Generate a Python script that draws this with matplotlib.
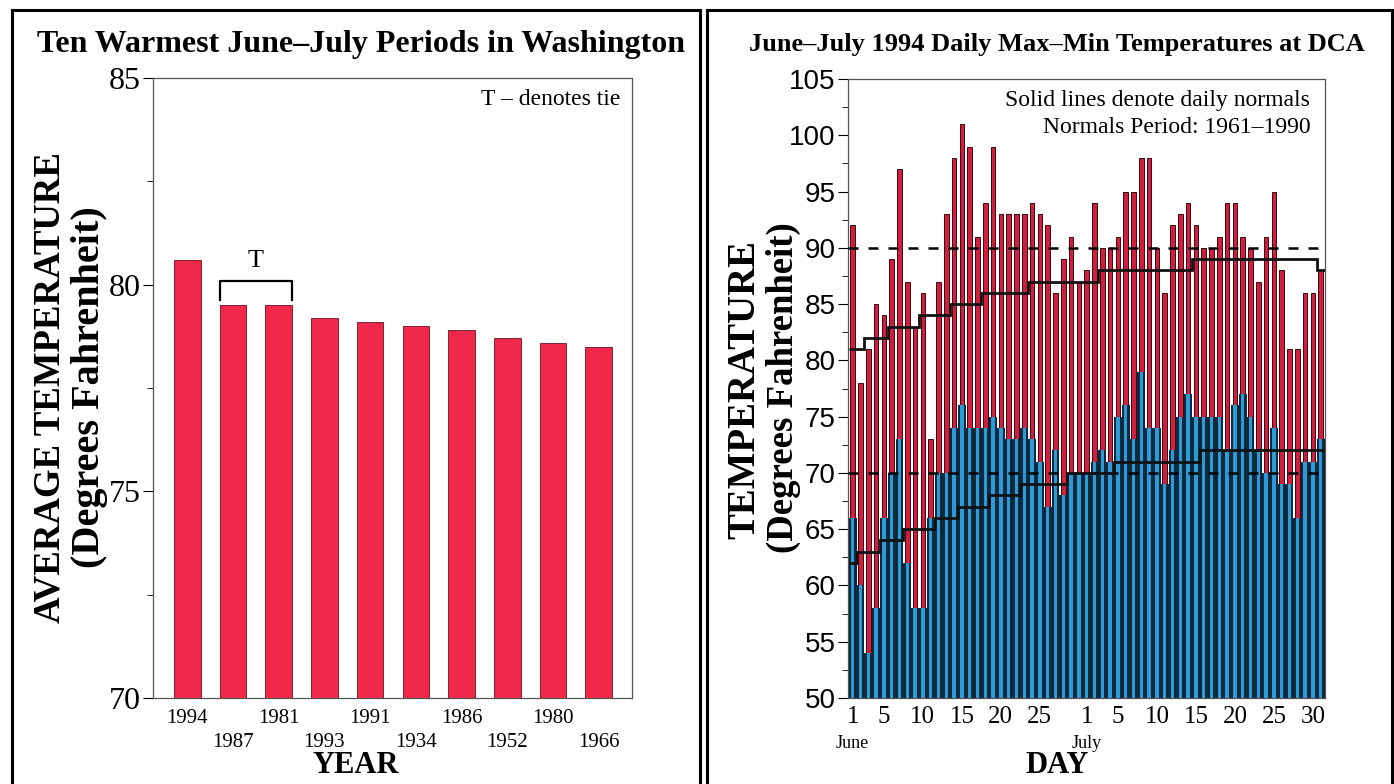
import numpy as np
import matplotlib.pyplot as plt
from matplotlib.patches import Rectangle
from matplotlib.transforms import blended_transform_factory

# left panel: ten warmest June-July periods
years = ['1994', '1987', '1981', '1993', '1991', '1934', '1986', '1952', '1980', '1966']
avg_temp = [80.6, 79.5, 79.5, 79.2, 79.1, 79.0, 78.9, 78.7, 78.6, 78.5]

# right panel: June 1 - July 31 1994 at DCA
daily_max = [92, 78, 81, 85, 84, 89, 97, 87, 83, 86, 73, 87, 93, 98, 101, 99, 91, 94,
             99, 93, 93, 93, 93, 94, 93, 92, 86, 89, 91, 87,
             88, 94, 90, 90, 91, 95, 95, 98, 98,
             90, 86, 92, 93, 94, 92, 90, 90, 91, 94, 94, 91, 90, 87, 91, 95, 88, 81, 81, 86, 86, 88]
daily_min = [66, 60, 54, 58, 66, 70, 73, 62, 58, 58, 66, 70, 70, 74, 76, 74, 74, 74,
             75, 74, 73, 73, 74, 73, 71, 67, 72, 68, 70, 70,
             70, 71, 72, 71, 75, 76, 73, 79, 74,
             74, 69, 72, 75, 77, 75, 75, 75, 75, 72, 76, 77, 75, 72, 70, 74, 69, 69, 66, 71, 71, 73]
normal_max = [81, 81, 82, 82, 82, 83, 83, 83, 83, 84, 84, 84, 84, 85, 85, 85, 85,
              86, 86, 86, 86, 86, 86, 87, 87, 87, 87, 87, 87, 87, 87, 87,
              88, 88, 88, 88, 88, 88, 88, 88, 88, 88, 88, 88,
              89, 89, 89, 89, 89, 89, 89, 89, 89, 89, 89, 89, 89, 89, 89, 89, 88]
normal_min = [62, 63, 63, 63, 64, 64, 64, 65, 65, 65, 65, 66, 66, 66, 67, 67, 67, 67,
              68, 68, 68, 68, 69, 69, 69, 69, 69, 69, 70, 70, 70, 70, 70, 70,
              71, 71, 71, 71, 71, 71, 71, 71, 71, 71, 71,
              72, 72, 72, 72, 72, 72, 72, 72, 72, 72, 72, 72, 72, 72, 72, 72]
day_ticks = [1, 5, 10, 15, 20, 25, 31, 35, 40, 45, 50, 55, 60]
day_labels = ['1', '5', '10', '15', '20', '25', '1', '5', '10', '15', '20', '25', '30']

serif = 'Liberation Serif'
sans = 'Liberation Sans'
plt.rcParams['font.family'] = serif

fig = plt.figure(figsize=(13.94, 7.84), dpi=100)

# panel frames
fig.add_artist(Rectangle((0.0086, -0.02), 0.4935, 1.007, transform=fig.transFigure,
                         fill=False, lw=2.2, ec='black'))
fig.add_artist(Rectangle((0.5075, -0.02), 0.491, 1.007, transform=fig.transFigure,
                         fill=False, lw=2.2, ec='black'))

# ---------------- left chart ----------------
ax1 = fig.add_axes([0.1098, 0.1097, 0.3436, 0.7908])
x = np.arange(len(years))
ax1.bar(x, np.array(avg_temp) - 70, bottom=70, width=0.58,
        color='#f0284a', edgecolor='#6a1020', lw=0.6)
ax1.set_xlim(-0.75, 9.73)
ax1.set_ylim(70, 85)
ax1.set_yticks([70, 75, 80, 85])
ax1.set_yticks([72.5, 77.5, 82.5], minor=True)
ax1.tick_params(axis='y', which='major', labelsize=23, length=7, direction='out', pad=2)
ax1.tick_params(axis='y', which='minor', length=4, direction='out')
ax1.set_xticks(x)
ax1.set_xticklabels([y if i % 2 == 0 else '\n' + y for i, y in enumerate(years)],
                    fontsize=15, linespacing=1.35)
ax1.tick_params(axis='x', length=0, pad=8)
for s in ax1.spines.values():
    s.set_color('#555555')
    s.set_linewidth(0.9)

# tie bracket
ax1.plot([0.71, 0.71, 2.29, 2.29], [79.64, 80.1, 80.1, 79.64], color='black', lw=1.6)
ax1.text(1.5, 80.3, 'T', ha='center', va='bottom', fontsize=19)
ax1.text(0.975, 0.965, 'T \u2013 denotes tie', transform=ax1.transAxes,
         ha='right', va='center', fontsize=17)

fig.text(0.259, 0.943, 'Ten Warmest June\u2013July Periods in Washington',
         ha='center', va='center', fontsize=23, fontweight='bold')
fig.text(0.036, 0.506, 'AVERAGE TEMPERATURE', rotation=90, ha='center', va='center',
         fontsize=26.5, fontweight='bold')
fig.text(0.064, 0.506, '(Degrees Fahrenheit)', rotation=90, ha='center', va='center',
         fontsize=29, fontweight='bold')
fig.text(0.255, 0.005, 'YEAR', ha='center', va='bottom', fontsize=22, fontweight='bold')

# ---------------- right chart ----------------
ax2 = fig.add_axes([0.6083, 0.1097, 0.3422, 0.7895])
days = np.arange(1, len(daily_max) + 1)
dmax = np.array(daily_max)
dmin = np.array(daily_min)

ax2.bar(days, dmax - dmin, bottom=dmin, width=0.6,
        color='#cf1f3f', edgecolor='#3a0810', lw=0.7, zorder=2)
ax2.bar(days, dmin - 50, bottom=50, width=1.0, color='#0c2a3c', lw=0, zorder=3)
ax2.bar(days, dmin - 50, bottom=50, width=0.44, color='#2b9ad6', lw=0, zorder=4)

ax2.axhline(90, color='black', lw=1.8, ls=(0, (4, 4)), zorder=5)
ax2.axhline(70, color='black', lw=1.8, ls=(0, (4, 4)), zorder=5)

edges = np.arange(0.5, len(days) + 1.5)
ax2.stairs(normal_max, edges, baseline=None, color='#111111', lw=2, zorder=6)
ax2.stairs(normal_min, edges, baseline=None, color='#111111', lw=2, zorder=6)

ax2.set_xlim(0.4, 61.55)
ax2.set_ylim(50, 105)
ax2.set_yticks(np.arange(50, 106, 5))
ax2.set_yticks(np.arange(52.5, 105, 5), minor=True)
ax2.tick_params(axis='y', which='major', labelsize=20, length=7, direction='out', pad=2)
ax2.tick_params(axis='y', which='minor', length=4, direction='out')
for lab in ax2.get_yticklabels():
    lab.set_fontfamily(sans)
ax2.set_xticks(day_ticks)
ax2.set_xticklabels(day_labels, fontsize=18)
ax2.tick_params(axis='x', length=0, pad=6)
for s in ax2.spines.values():
    s.set_color('#555555')
    s.set_linewidth(0.9)

trans = blended_transform_factory(ax2.transData, fig.transFigure)
ax2.text(1, 0.052, 'June', transform=trans, ha='center', va='center', fontsize=13)
ax2.text(31, 0.052, 'July', transform=trans, ha='center', va='center', fontsize=13)

ax2.text(0.969, 0.966, 'Solid lines denote daily normals', transform=ax2.transAxes,
         ha='right', va='center', fontsize=17)
ax2.text(0.969, 0.922, 'Normals Period: 1961\u20131990', transform=ax2.transAxes,
         ha='right', va='center', fontsize=17)

fig.text(0.758, 0.943, 'June\u2013July 1994 Daily Max\u2013Min Temperatures at DCA',
         ha='center', va='center', fontsize=19, fontweight='bold')
fig.text(0.534, 0.503, 'TEMPERATURE', rotation=90, ha='center', va='center',
         fontsize=28, fontweight='bold')
fig.text(0.562, 0.505, '(Degrees Fahrenheit)', rotation=90, ha='center', va='center',
         fontsize=26.5, fontweight='bold')
fig.text(0.758, 0.005, 'DAY', ha='center', va='bottom', fontsize=22, fontweight='bold')

fig.savefig('out.png', dpi=100)
